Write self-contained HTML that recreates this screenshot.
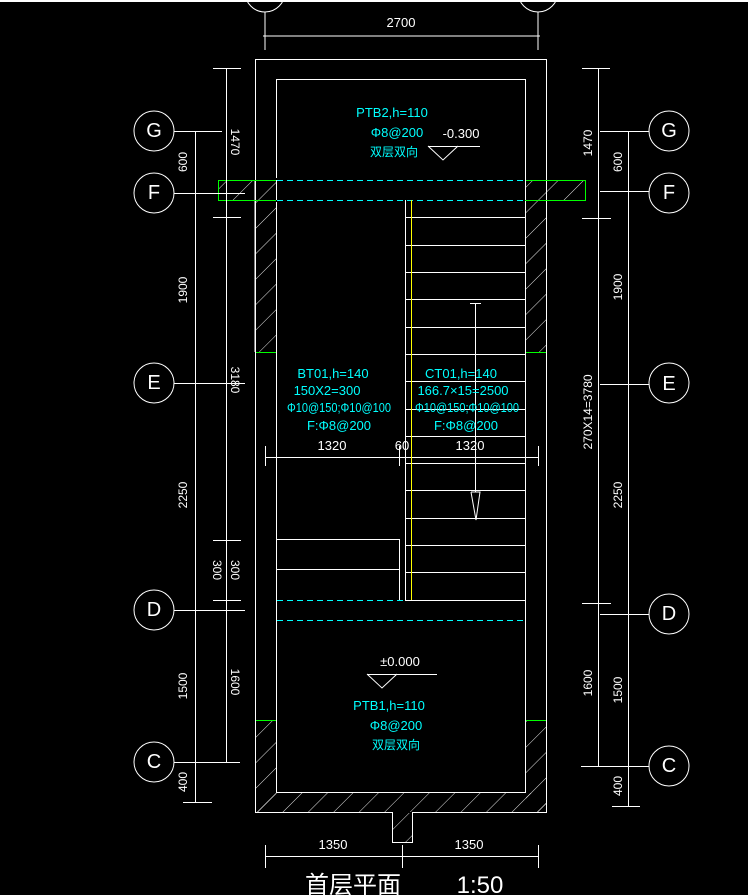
<!DOCTYPE html>
<html><head><meta charset="utf-8"><style>
html,body{margin:0;padding:0;background:#000;}
svg{display:block;}
text{font-family:"Liberation Sans","Noto Sans CJK SC",sans-serif;}
</style></head><body>
<svg width="748" height="895" viewBox="0 0 748 895" xmlns="http://www.w3.org/2000/svg">
<defs>
<pattern id="h" patternUnits="userSpaceOnUse" width="18" height="18" patternTransform="rotate(45)">
<line x1="0" y1="0" x2="0" y2="18" stroke="#fff" stroke-width="0.9"/>
</pattern>
</defs>
<rect x="0" y="0" width="748" height="895" fill="#000"/>
<rect x="0" y="0" width="748" height="2" fill="#fff"/>
<g stroke="#fff" fill="none" stroke-width="1">
<circle cx="265" cy="-8" r="20"/><circle cx="538" cy="-8" r="20"/>
<line x1="265" y1="12" x2="265" y2="50"/><line x1="538" y1="12" x2="538" y2="50"/>
<line x1="263" y1="36" x2="540" y2="36"/>
<rect x="255.5" y="59.5" width="291" height="753"/>
<rect x="276.5" y="79.5" width="249" height="713"/>
</g>
<g fill="url(#h)" stroke="none">
<rect x="256" y="200" width="20" height="152"/>
<rect x="526" y="200" width="20" height="152"/>
<rect x="219" y="181" width="36" height="19"/>
<rect x="547" y="181" width="39" height="19"/>
<rect x="256" y="181" width="20" height="19"/>
<rect x="526" y="181" width="20" height="19"/>
<rect x="256" y="721" width="20" height="91"/>
<rect x="526" y="721" width="20" height="91"/>
<rect x="256" y="793" width="290" height="19"/>
<rect x="393" y="812" width="19" height="30"/>
</g>
<g stroke="#fff" fill="none" stroke-width="1">
<line x1="255" y1="180" x2="255" y2="352"/>
<polyline points="392.5,812 392.5,842.5 412.5,842.5 412.5,812"/>
<line x1="393" y1="812.5" x2="412" y2="812.5" stroke="#000"/>
</g>
<g stroke="#0f0" fill="none" stroke-width="1">
<rect x="218.5" y="180.5" width="367" height="20"/>
<line x1="256" y1="352.5" x2="276" y2="352.5"/>
<line x1="526" y1="352.5" x2="546" y2="352.5"/>
<line x1="256" y1="720.5" x2="276" y2="720.5"/>
<line x1="526" y1="720.5" x2="546" y2="720.5"/>
</g>
<rect x="276" y="178" width="249" height="24" fill="#000"/>
<g stroke="#0ff" stroke-dasharray="6,4" stroke-width="1">
<line x1="277" y1="180.5" x2="525" y2="180.5"/>
<line x1="277" y1="200.5" x2="525" y2="200.5"/>
<line x1="277" y1="600.5" x2="405" y2="600.5"/>
<line x1="277" y1="620.5" x2="525" y2="620.5"/>
</g>
<g stroke="#fff" fill="none" stroke-width="1">
<line x1="276.5" y1="180" x2="276.5" y2="200"/><line x1="525.5" y1="180" x2="525.5" y2="200"/>
<line x1="405.5" y1="200" x2="405.5" y2="600"/>
<line x1="405" y1="217.5" x2="525" y2="217.5"/><line x1="405" y1="245.5" x2="525" y2="245.5"/>
<line x1="405" y1="272.5" x2="525" y2="272.5"/><line x1="405" y1="299.5" x2="525" y2="299.5"/>
<line x1="405" y1="327.5" x2="525" y2="327.5"/><line x1="405" y1="354.5" x2="525" y2="354.5"/>
<line x1="405" y1="381.5" x2="525" y2="381.5"/><line x1="405" y1="409.5" x2="525" y2="409.5"/>
<line x1="405" y1="436.5" x2="525" y2="436.5"/><line x1="405" y1="463.5" x2="525" y2="463.5"/>
<line x1="405" y1="490.5" x2="525" y2="490.5"/><line x1="405" y1="518.5" x2="525" y2="518.5"/>
<line x1="405" y1="545.5" x2="525" y2="545.5"/><line x1="405" y1="572.5" x2="525" y2="572.5"/>
<line x1="405" y1="600.5" x2="525" y2="600.5"/>
<line x1="475.5" y1="303" x2="475.5" y2="492"/>
<line x1="470" y1="303.5" x2="481" y2="303.5"/>
<polyline points="471,492 480,492 476,520 471,492"/>
<polyline points="276,539.5 399.5,539.5 399.5,600"/>
<line x1="276" y1="569.5" x2="399" y2="569.5"/>
<line x1="265" y1="457.5" x2="538" y2="457.5"/>
<line x1="265.5" y1="446" x2="265.5" y2="466"/><line x1="399.5" y1="446" x2="399.5" y2="466"/>
<line x1="405.5" y1="446" x2="405.5" y2="466"/><line x1="538.5" y1="446" x2="538.5" y2="466"/>
<line x1="428" y1="146.5" x2="480" y2="146.5"/><polyline points="428,146 443,160 458,146"/>
<line x1="367" y1="674.5" x2="437" y2="674.5"/><polyline points="367,674 382,688 397,674"/>
<line x1="265" y1="856.5" x2="538" y2="856.5"/>
<line x1="265.5" y1="845" x2="265.5" y2="868"/><line x1="402.5" y1="845" x2="402.5" y2="868"/><line x1="538.5" y1="845" x2="538.5" y2="868"/>
<circle cx="154" cy="131" r="20"/><circle cx="154" cy="193" r="20"/><circle cx="154" cy="383" r="20"/><circle cx="154" cy="610" r="20"/><circle cx="154" cy="762" r="20"/>
<line x1="174" y1="131.5" x2="222" y2="131.5"/><line x1="174" y1="193.5" x2="245" y2="193.5"/>
<line x1="174" y1="383.5" x2="245" y2="383.5"/><line x1="174" y1="610.5" x2="245" y2="610.5"/>
<line x1="174" y1="762.5" x2="240" y2="762.5"/>
<line x1="195.5" y1="131" x2="195.5" y2="802"/><line x1="183" y1="802.5" x2="212" y2="802.5"/>
<line x1="226.5" y1="68" x2="226.5" y2="762"/>
<line x1="213" y1="68.5" x2="241" y2="68.5"/><line x1="213" y1="217.5" x2="241" y2="217.5"/>
<line x1="213" y1="540.5" x2="241" y2="540.5"/><line x1="213" y1="600.5" x2="241" y2="600.5"/>
<circle cx="669" cy="131" r="20"/><circle cx="669" cy="193" r="20"/><circle cx="669" cy="383" r="20"/><circle cx="669" cy="614" r="20"/><circle cx="669" cy="766" r="20"/>
<line x1="600" y1="131.5" x2="649" y2="131.5"/><line x1="600" y1="191.5" x2="649" y2="191.5"/>
<line x1="600" y1="384.5" x2="649" y2="384.5"/><line x1="600" y1="614.5" x2="649" y2="614.5"/>
<line x1="581" y1="766.5" x2="649" y2="766.5"/>
<line x1="628.5" y1="131" x2="628.5" y2="806"/><line x1="612" y1="806.5" x2="640" y2="806.5"/>
<line x1="598.5" y1="68" x2="598.5" y2="766"/>
<line x1="582" y1="68.5" x2="610" y2="68.5"/><line x1="582" y1="218.5" x2="611" y2="218.5"/>
<line x1="582" y1="603.5" x2="611" y2="603.5"/>
</g>
<line x1="411.5" y1="200" x2="411.5" y2="600" stroke="#ff0" stroke-width="1"/>
<g fill="#fff" font-size="13">
<text x="401" y="27" text-anchor="middle">2700</text>
<g font-size="20" text-anchor="middle" dominant-baseline="central">
<text x="154" y="131">G</text><text x="154" y="193">F</text><text x="154" y="383">E</text><text x="154" y="610">D</text><text x="154" y="762">C</text>
<text x="669" y="131">G</text><text x="669" y="193">F</text><text x="669" y="384">E</text><text x="669" y="614">D</text><text x="669" y="766">C</text>
</g>
<g font-size="12">
<text transform="translate(231,142) rotate(90)" text-anchor="middle">1470</text>
<text transform="translate(187,162) rotate(-90)" text-anchor="middle">600</text>
<text transform="translate(187,290) rotate(-90)" text-anchor="middle">1900</text>
<text transform="translate(231,380) rotate(90)" text-anchor="middle">3180</text>
<text transform="translate(187,495) rotate(-90)" text-anchor="middle">2250</text>
<text transform="translate(231,570) rotate(90)" text-anchor="middle">300</text>
<text transform="translate(213,570) rotate(90)" text-anchor="middle">300</text>
<text transform="translate(231,682) rotate(90)" text-anchor="middle">1600</text>
<text transform="translate(187,686) rotate(-90)" text-anchor="middle">1500</text>
<text transform="translate(187,782) rotate(-90)" text-anchor="middle">400</text>
<text transform="translate(592,143) rotate(-90)" text-anchor="middle">1470</text>
<text transform="translate(622,162) rotate(-90)" text-anchor="middle">600</text>
<text transform="translate(622,287) rotate(-90)" text-anchor="middle">1900</text>
<text transform="translate(592,412) rotate(-90)" text-anchor="middle">270X14=3780</text>
<text transform="translate(622,495) rotate(-90)" text-anchor="middle">2250</text>
<text transform="translate(592,683) rotate(-90)" text-anchor="middle">1600</text>
<text transform="translate(622,690) rotate(-90)" text-anchor="middle">1500</text>
<text transform="translate(622,786) rotate(-90)" text-anchor="middle">400</text>
</g>
<text x="332" y="450" text-anchor="middle">1320</text>
<text x="402" y="450" text-anchor="middle">60</text>
<text x="470" y="450" text-anchor="middle">1320</text>
<text x="461" y="138" text-anchor="middle">-0.300</text>
<text x="400" y="666" text-anchor="middle">±0.000</text>
<text x="333" y="849" text-anchor="middle">1350</text>
<text x="469" y="849" text-anchor="middle">1350</text>
<text x="353" y="893" font-size="24" text-anchor="middle">首层平面</text>
<text x="480" y="893" font-size="24" text-anchor="middle">1:50</text>
</g>
<g fill="#0ff" font-size="13" text-anchor="middle">
<text x="392" y="117">PTB2,h=110</text>
<text x="397" y="137">Φ8@200</text>
<text x="394" y="156" font-size="12">双层双向</text>
<text x="333" y="378">BT01,h=140</text>
<text x="327" y="395">150X2=300</text>
<text x="339" y="412" textLength="104" lengthAdjust="spacingAndGlyphs">Φ10@150;Φ10@100</text>
<text x="339" y="430">F:Φ8@200</text>
<text x="461" y="378">CT01,h=140</text>
<text x="463" y="395">166.7×15=2500</text>
<text x="467" y="412" textLength="104" lengthAdjust="spacingAndGlyphs">Φ10@150;Φ10@100</text>
<text x="466" y="430">F:Φ8@200</text>
<text x="389" y="710">PTB1,h=110</text>
<text x="396" y="730">Φ8@200</text>
<text x="396" y="749" font-size="12">双层双向</text>
</g>
</svg>
</body></html>
